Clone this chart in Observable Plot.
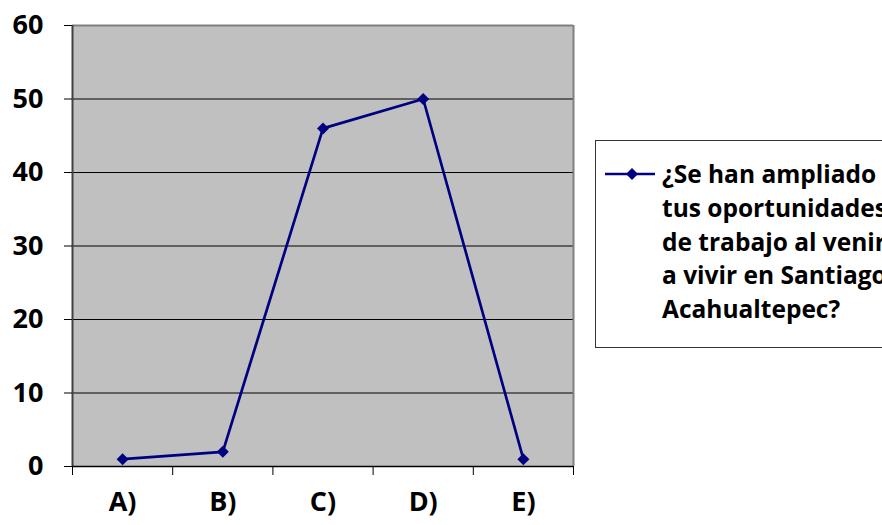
<!DOCTYPE html>
<html>
<head>
<meta charset="utf-8">
<script src="https://cdn.jsdelivr.net/npm/d3@7"></script>
<script src="https://cdn.jsdelivr.net/npm/@observablehq/plot@0.6"></script>
<style>
  html, body { margin: 0; padding: 0; background: #fff; overflow: hidden; width: 882px; height: 525px; }
  #wrap { position: relative; width: 882px; height: 525px; overflow: hidden; }
  #legend { position: absolute; left: 595px; top: 140px; width: 320px; height: 208px;
    border: 1px solid #333; box-sizing: border-box; background: #fff;
    font-family: "Open Sans", Lato, sans-serif; font-weight: bold; font-size: 24.5px; color: #000; }
  #legend svg { position: absolute; left: 9px; top: 26px; }
  #legend .txt { position: absolute; left: 66px; top: 16px; line-height: 33.8px; white-space: nowrap; }
</style>
</head>
<body>
<div id="wrap"></div>
<script>
const categories = ["A)", "B)", "C)", "D)", "E)"];
const values = [1, 2, 46, 50, 1];
const yTicks = [0, 10, 20, 30, 40, 50, 60];
const gridTicks = [10, 20, 30, 40, 50];
const seriesName = ["¿Se han ampliado", "tus oportunidades", "de trabajo al venir", "a vivir en Santiago", "Acahualtepec?"];

const data = categories.map((c, i) => ({i, c, v: values[i]}));
const idx = categories.map((c, i) => i);
const bounds = [-0.5, ...idx.map(i => i + 0.5)];
const font = "'Open Sans', Lato, sans-serif";

const chart = Plot.plot({
  width: 882,
  height: 525,
  marginLeft: 72,
  marginRight: 309,
  marginTop: 25,
  marginBottom: 59,
  style: {fontFamily: font, background: "#fff", color: "#000", overflow: "visible"},
  x: {domain: [bounds[0], bounds[bounds.length - 1]], axis: null},
  y: {domain: [0, 60], axis: null},
  marks: [
    Plot.frame({fill: "#C0C0C0", stroke: null}),
    Plot.ruleY(gridTicks, {stroke: "#000", strokeWidth: 1}),
    Plot.ruleY([60], {stroke: "#808080", strokeWidth: 2}),
    Plot.ruleX([bounds[bounds.length - 1]], {stroke: "#808080", strokeWidth: 2}),
    Plot.ruleX([bounds[0]], {stroke: "#404040", strokeWidth: 2}),
    Plot.ruleY([0], {stroke: "#000", strokeWidth: 1.5}),
    Plot.axisY(yTicks, {tickSize: 8, tickPadding: 21, fontSize: 27, fontWeight: "bold", stroke: "#000", label: null, tickFormat: d => String(d)}),
    Plot.axisX(bounds, {tickSize: 9, tickFormat: () => "", stroke: "#000", label: null}),
    Plot.axisX(idx, {tickSize: 0, tickPadding: 25, fontSize: 27, fontWeight: "bold", label: null, tickFormat: i => categories[i]}),
    Plot.line(data, {x: "i", y: "v", stroke: "#000080", strokeWidth: 2.7}),
    Plot.dot(data, {x: "i", y: "v", symbol: "diamond2", r: 5.4, fill: "#000080", stroke: "none"})
  ]
});
const wrap = document.getElementById("wrap");
wrap.appendChild(chart);

const legend = document.createElement("div");
legend.id = "legend";
legend.innerHTML = `<svg width="52" height="14"><line x1="0" y1="7" x2="50" y2="7" stroke="#000080" stroke-width="2.5"/><path d="M27,1 L33,7 L27,13 L21,7 Z" fill="#000080"/></svg><div class="txt">${seriesName.join("<br>")}</div>`;
wrap.appendChild(legend);
</script>
</body>
</html>
